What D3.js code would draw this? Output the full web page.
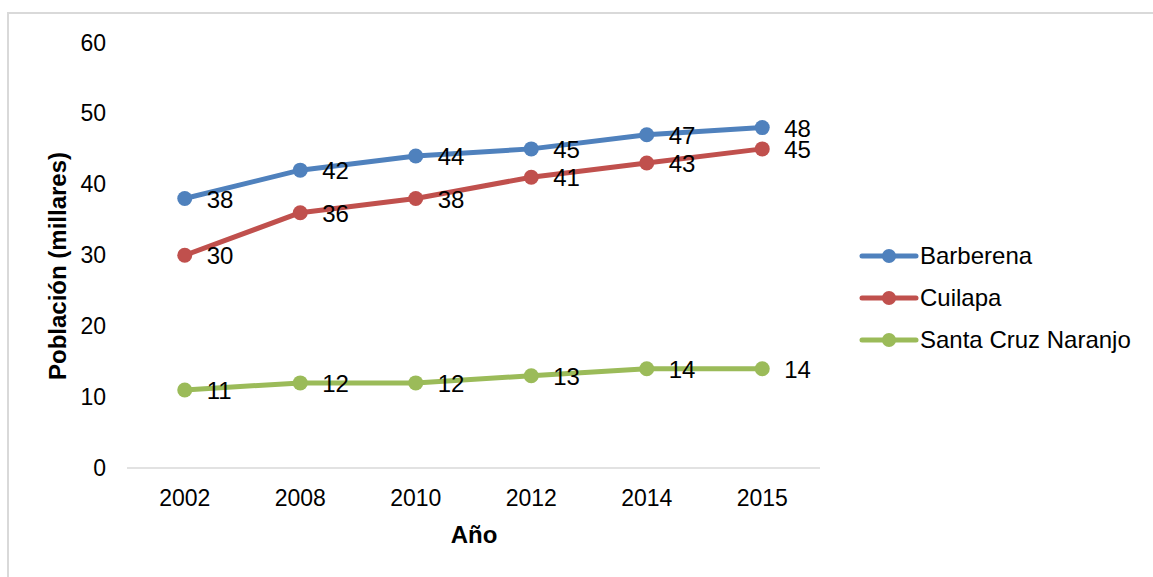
<!DOCTYPE html>
<html>
<head>
<meta charset="utf-8">
<script src="https://cdn.jsdelivr.net/npm/d3@7"></script>
<style>
  body { margin: 0; background: #fff; }
  svg { font-family: "Liberation Sans", Arial, sans-serif; }
</style>
</head>
<body>
<svg id="chart" width="1153" height="577"></svg>
<script>
// data
var years = ["2002", "2008", "2010", "2012", "2014", "2015"]
var barberena = [38, 42, 44, 45, 47, 48]
var cuilapa = [30, 36, 38, 41, 43, 45]
var santaCruz = [11, 12, 12, 13, 14, 14]
var names = ["Barberena", "Cuilapa", "Santa Cruz Naranjo"]
var yTicks = [0, 10, 20, 30, 40, 50, 60]

var series = [
  {name: names[0], values: barberena},
  {name: names[1], values: cuilapa},
  {name: names[2], values: santaCruz}
]

var color = d3.scaleOrdinal()
  .domain(names)
  .range(["#4F81BD", "#C0504D", "#9BBB59"])

var svg = d3.select("#chart")

// outer frame (only top and left edges show in the picture)
svg.append("rect")
  .attr("x", 8).attr("y", 13)
  .attr("width", 1160).attr("height", 580)
  .attr("fill", "none")
  .attr("stroke", "#d9d9d9")
  .attr("stroke-width", 2)

var x = d3.scaleBand().domain(years).range([127, 820])
var y = d3.scaleLinear().domain([0, 60]).range([468, 42.5])

// x axis line
svg.append("line")
  .attr("x1", 127).attr("x2", 820)
  .attr("y1", y(0)).attr("y2", y(0))
  .attr("stroke", "#d9d9d9")
  .attr("stroke-width", 1.5)

// x tick labels
svg.selectAll("xlab")
  .data(years)
  .enter()
  .append("text")
    .attr("x", function(d){ return x(d) + x.bandwidth()/2 })
    .attr("y", 506)
    .attr("text-anchor", "middle")
    .style("font-size", "23px")
    .text(function(d){ return d })

// y tick labels
svg.selectAll("ylab")
  .data(yTicks)
  .enter()
  .append("text")
    .attr("x", 106)
    .attr("y", function(d){ return y(d) + 8 })
    .attr("text-anchor", "end")
    .style("font-size", "23px")
    .text(function(d){ return d })

// axis titles
svg.append("text")
  .attr("x", 474).attr("y", 543)
  .attr("text-anchor", "middle")
  .style("font-size", "24px")
  .style("font-weight", "bold")
  .text("Año")

svg.append("text")
  .attr("transform", "translate(66,266) rotate(-90)")
  .attr("text-anchor", "middle")
  .style("font-size", "24px")
  .style("font-weight", "bold")
  .text("Población (millares)")

var line = d3.line()
  .x(function(d, i){ return x(years[i]) + x.bandwidth()/2 })
  .y(function(d){ return y(d) })

var g = svg.selectAll("series")
  .data(series)
  .enter()
  .append("g")

g.append("path")
  .attr("d", function(s){ return line(s.values) })
  .attr("fill", "none")
  .attr("stroke", function(s){ return color(s.name) })
  .attr("stroke-width", 5)
  .attr("stroke-linejoin", "round")
  .attr("stroke-linecap", "round")

g.selectAll("circle")
  .data(function(s){ return s.values.map(function(v, i){ return {v: v, i: i, name: s.name} }) })
  .enter()
  .append("circle")
    .attr("cx", function(d){ return x(years[d.i]) + x.bandwidth()/2 })
    .attr("cy", function(d){ return y(d.v) })
    .attr("r", 7.5)
    .attr("fill", function(d){ return color(d.name) })

g.selectAll("text")
  .data(function(s){ return s.values.map(function(v, i){ return {v: v, i: i} }) })
  .enter()
  .append("text")
    .attr("x", function(d){ return x(years[d.i]) + x.bandwidth()/2 + 22 })
    .attr("y", function(d){ return y(d.v) + 9 })
    .style("font-size", "24px")
    .text(function(d){ return d.v })

// legend
var leg = svg.selectAll("legend")
  .data(names)
  .enter()
  .append("g")
    .attr("transform", function(d, i){ return "translate(862," + (256 + i*42) + ")" })

leg.append("line")
  .attr("x1", 0).attr("x2", 54)
  .attr("stroke", function(d){ return color(d) })
  .attr("stroke-width", 5)
  .attr("stroke-linecap", "round")

leg.append("circle")
  .attr("cx", 27).attr("r", 7)
  .attr("fill", function(d){ return color(d) })

leg.append("text")
  .attr("x", 58).attr("y", 8)
  .style("font-size", "24px")
  .text(function(d){ return d })
</script>
</body>
</html>
